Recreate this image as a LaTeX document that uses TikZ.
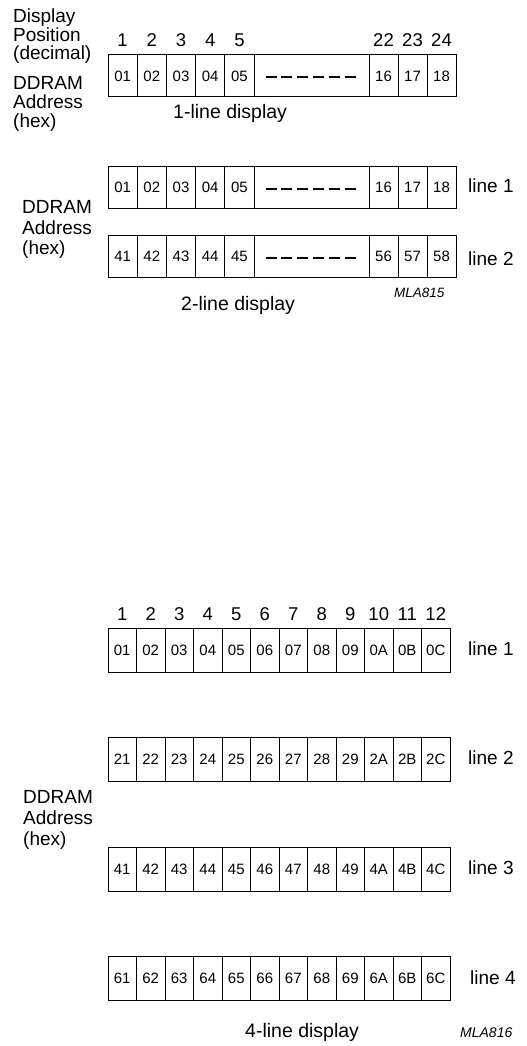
\documentclass[tikz,border=0pt]{standalone}
\usepackage{fontspec}
\setmainfont{Liberation Sans}
\begin{document}
\begin{tikzpicture}[x=1pt,y=-1pt,
  cellbox/.style={draw, line width=1pt, minimum width=#1, minimum height=42pt, inner sep=0pt, font=\fontsize{15}{15}\selectfont},
  cellbox/.default=29.2pt,
  gapbox/.style={draw, line width=1pt, minimum width=#1, minimum height=42pt, inner sep=0pt},
  qcell/.style={draw, line width=1pt, minimum width=28.5pt, minimum height=44pt, inner sep=0pt, font=\fontsize{15}{15}\selectfont},
  dashline/.style={line width=2pt, dash pattern=on 11pt off 4.8pt},
  lbl/.style={anchor=base west, inner sep=0pt, font=\fontsize{19}{19}\selectfont},
  posnum/.style={anchor=base, inner sep=0pt, font=\fontsize{18.5}{18.5}\selectfont},
  captxt/.style={anchor=base west, inner sep=0pt, font=\fontsize{19.5}{19.5}\selectfont},
  codetxt/.style={anchor=base west, inner sep=0pt, font=\itshape\fontsize{#1}{#1}\selectfont},
]
\useasboundingbox (0,0) rectangle (527,1046);

% ---------- 1-line display ----------
\node[lbl] (l1a) at (13,23) {Display};
\node[lbl] (l1b) at (13,42) {Position};
\node[lbl] (l1c) at (13,60) {(decimal)};
\node[lbl] (l1d) at (13,90) {DDRAM};
\node[lbl] (l1e) at (13,109) {Address};
\node[lbl] (l1f) at (13,128) {(hex)};

\foreach \n [count=\i from 0] in {1,2,3,4,5}
  \node[posnum] (pa\i) at ({122.6+29.2*\i},47) {\n};
\foreach \n [count=\i from 0] in {22,23,24}
  \node[posnum] (pb\i) at ({383.5+29*\i},47) {\n};

\foreach \t [count=\i from 0] in {01,02,03,04,05}
  \node[cellbox] (oa\i) at ({122.6+29.2*\i},76) {\t};
\node[gapbox=115pt] (og) at (311.5,76) {};
\foreach \t [count=\i from 0] in {16,17,18}
  \node[cellbox=29pt] (ob\i) at ({383.5+29*\i},76) {\t};
\draw[dashline] ([xshift=12pt,yshift=-1pt]og.west) -- ([xshift=-13pt,yshift=-1pt]og.east);
\node[captxt] (c1) at (173,118) {1-line display};

% ---------- 2-line display ----------
\node[lbl] (l2a) at (22,213) {DDRAM};
\node[lbl] (l2b) at (22,234) {Address};
\node[lbl] (l2c) at (22,254) {(hex)};

\foreach \t [count=\i from 0] in {01,02,03,04,05}
  \node[cellbox] (ra\i) at ({122.6+29.2*\i},187) {\t};
\node[gapbox=115pt] (rg) at (311.5,187) {};
\foreach \t [count=\i from 0] in {16,17,18}
  \node[cellbox=29pt] (rb\i) at ({383.5+29*\i},187) {\t};
\draw[dashline] ([xshift=12pt,yshift=-2pt]rg.west) -- ([xshift=-13pt,yshift=-2pt]rg.east);
\node[lbl] (ln1) at (468,192) {line 1};

\foreach \t [count=\i from 0] in {41,42,43,44,45}
  \node[cellbox] (sa\i) at ({122.6+29.2*\i},256.5) {\t};
\node[gapbox=115pt] (sg) at (311.5,256.5) {};
\foreach \t [count=\i from 0] in {56,57,58}
  \node[cellbox=29pt] (sb\i) at ({383.5+29*\i},256.5) {\t};
\draw[dashline] ([xshift=12pt,yshift=-1.5pt]sg.west) -- ([xshift=-13pt,yshift=-1.5pt]sg.east);
\node[lbl] (ln2) at (468,265) {line 2};

\node[codetxt=13.5] (m815) at (394,297) {MLA815};
\node[captxt] (c2) at (181,310) {2-line display};

% ---------- 4-line display ----------
\foreach \n [count=\i from 0] in {1,2,3,4,5,6,7,8,9,10,11,12}
  \node[posnum] (qn\i) at ({122.25+28.5*\i},620) {\n};

\foreach \t [count=\i from 0] in {01,02,03,04,05,06,07,08,09,0A,0B,0C}
  \node[qcell] (qa\i) at ({122.25+28.5*\i},650) {\t};
\node[lbl] (q1) at (468,655) {line 1};

\foreach \t [count=\i from 0] in {21,22,23,24,25,26,27,28,29,2A,2B,2C}
  \node[qcell] (qb\i) at ({122.25+28.5*\i},759.5) {\t};
\node[lbl] (q2) at (468,764) {line 2};

\foreach \t [count=\i from 0] in {41,42,43,44,45,46,47,48,49,4A,4B,4C}
  \node[qcell] (qc\i) at ({122.25+28.5*\i},869) {\t};
\node[lbl] (q3) at (468,874) {line 3};

\foreach \t [count=\i from 0] in {61,62,63,64,65,66,67,68,69,6A,6B,6C}
  \node[qcell] (qd\i) at ({122.25+28.5*\i},978.5) {\t};
\node[lbl] (q4) at (470,984) {line 4};

\node[lbl] (l4a) at (23,803) {DDRAM};
\node[lbl] (l4b) at (23,824) {Address};
\node[lbl] (l4c) at (23,845) {(hex)};

\node[captxt] (c4) at (245,1037) {4-line display};
\node[codetxt=14] (m816) at (460,1037) {MLA816};
\end{tikzpicture}
\end{document}
